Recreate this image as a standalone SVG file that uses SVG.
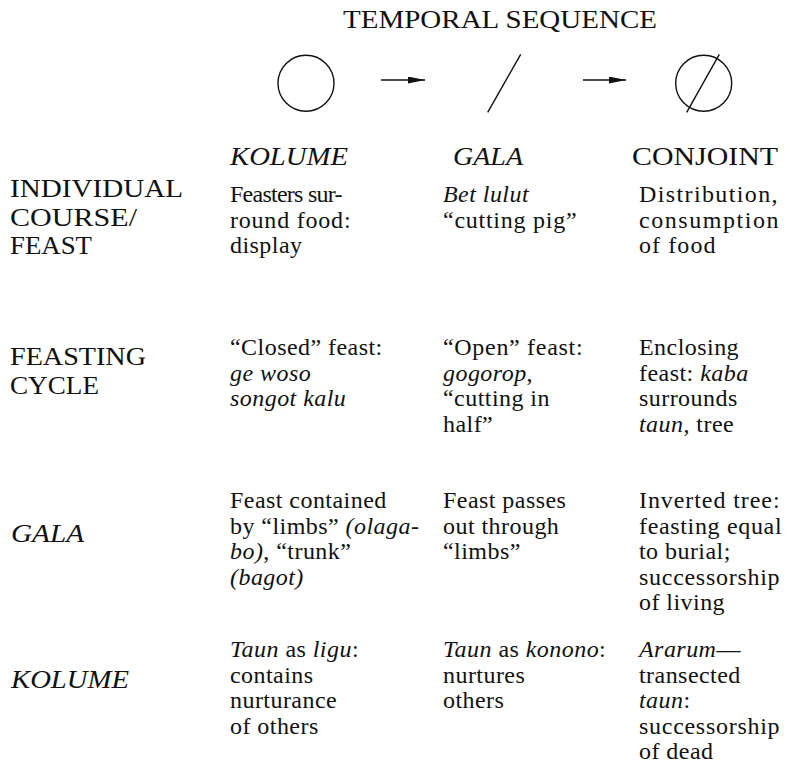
<svg xmlns="http://www.w3.org/2000/svg" width="786" height="764" viewBox="0 0 786 764">
<defs>
<style>
text{fill:#111;}
.t{font-size:26px;}
.lab{font-size:26px;}
.hd{font-size:26px;}
.b{font-size:24px;letter-spacing:0.45px;}
.i{font-style:italic;}
.sym{fill:none;stroke:#111;stroke-width:1.4;}
</style>
<marker id="ah" markerUnits="userSpaceOnUse" markerWidth="18" markerHeight="8" refX="17" refY="3.5" orient="auto">
<path d="M0,0 L17,3.5 L0,7 Z" fill="#111"/>
</marker>
</defs>
<rect width="786" height="764" fill="#fff"/>
<g font-family="Liberation Serif, DejaVu Serif, serif">

<g id="title"><text class="t" x="343" y="28" textLength="314" lengthAdjust="spacingAndGlyphs">TEMPORAL SEQUENCE</text></g>

<g id="sym-circle"><circle class="sym" cx="306" cy="83.3" r="28"/></g>
<g id="sym-slash"><line class="sym" x1="520.7" y1="54.3" x2="487.7" y2="112.3"/></g>
<g id="sym-conjoint"><circle class="sym" cx="703.7" cy="83.3" r="28"/><line class="sym" x1="719.3" y1="54.3" x2="686.7" y2="112.3"/></g>

<g id="connectors">
<line class="sym" x1="381" y1="80" x2="425" y2="80" marker-end="url(#ah)"/>
<line class="sym" x1="583" y1="80" x2="626" y2="80" marker-end="url(#ah)"/>
</g>

<g id="headers">
<text class="hd i" x="230" y="165" textLength="118" lengthAdjust="spacingAndGlyphs">KOLUME</text>
<text class="hd i" x="453" y="165" textLength="70" lengthAdjust="spacingAndGlyphs">GALA</text>
<text class="hd" x="632" y="165" textLength="146" lengthAdjust="spacingAndGlyphs">CONJOINT</text>
</g>

<g id="row-labels">
<text class="lab" x="10" y="197" textLength="173" lengthAdjust="spacingAndGlyphs">INDIVIDUAL</text>
<text class="lab" x="10" y="225.5" textLength="127" lengthAdjust="spacingAndGlyphs">COURSE/</text>
<text class="lab" x="10" y="254" textLength="82" lengthAdjust="spacingAndGlyphs">FEAST</text>
<text class="lab" x="10" y="365" textLength="136" lengthAdjust="spacingAndGlyphs">FEASTING</text>
<text class="lab" x="10" y="394" textLength="89" lengthAdjust="spacingAndGlyphs">CYCLE</text>
<text class="lab i" x="11" y="542" textLength="73" lengthAdjust="spacingAndGlyphs">GALA</text>
<text class="lab i" x="11" y="688" textLength="118" lengthAdjust="spacingAndGlyphs">KOLUME</text>
</g>

<g id="cell-r1-c1">
<text class="b" x="230" y="202" textLength="113" lengthAdjust="spacing">Feasters sur-</text>
<text class="b" x="230" y="227.5" textLength="121" lengthAdjust="spacing">round food:</text>
<text class="b" x="230" y="253">display</text>
</g>
<g id="cell-r1-c2">
<text class="b i" x="443" y="202">Bet lulut</text>
<text class="b" x="443" y="227.5" textLength="134" lengthAdjust="spacing">“cutting pig”</text>
</g>
<g id="cell-r1-c3">
<text class="b" x="639" y="202" textLength="139" lengthAdjust="spacing">Distribution,</text>
<text class="b" x="639" y="227.5" textLength="140" lengthAdjust="spacing">consumption</text>
<text class="b" x="639" y="253" textLength="77" lengthAdjust="spacing">of food</text>
</g>

<g id="cell-r2-c1">
<text class="b" x="230" y="355">“Closed” feast:</text>
<text class="b i" x="230" y="380.5">ge woso</text>
<text class="b i" x="230" y="406">songot kalu</text>
</g>
<g id="cell-r2-c2">
<text class="b" x="443" y="355" textLength="140" lengthAdjust="spacing">“Open” feast:</text>
<text class="b" x="443" y="380.5"><tspan class="i">gogorop</tspan>,</text>
<text class="b" x="443" y="406">“cutting in</text>
<text class="b" x="443" y="431.5">half”</text>
</g>
<g id="cell-r2-c3">
<text class="b" x="639" y="355">Enclosing</text>
<text class="b" x="639" y="380.5">feast: <tspan class="i">kaba</tspan></text>
<text class="b" x="639" y="406">surrounds</text>
<text class="b" x="639" y="431.5"><tspan class="i">taun</tspan>, tree</text>
</g>

<g id="cell-r3-c1">
<text class="b" x="230" y="508">Feast contained</text>
<text class="b" x="230" y="533.5">by “limbs” <tspan class="i">(olaga-</tspan></text>
<text class="b" x="230" y="559"><tspan class="i">bo)</tspan>, “trunk”</text>
<text class="b i" x="230" y="584.5">(bagot)</text>
</g>
<g id="cell-r3-c2">
<text class="b" x="443" y="508">Feast passes</text>
<text class="b" x="443" y="533.5">out through</text>
<text class="b" x="443" y="559">“limbs”</text>
</g>
<g id="cell-r3-c3">
<text class="b" x="639" y="508" textLength="141" lengthAdjust="spacing">Inverted tree:</text>
<text class="b" x="639" y="533.5" textLength="143" lengthAdjust="spacing">feasting equal</text>
<text class="b" x="639" y="559">to burial;</text>
<text class="b" x="639" y="584.5" textLength="141" lengthAdjust="spacing">successorship</text>
<text class="b" x="639" y="610">of living</text>
</g>

<g id="cell-r4-c1">
<text class="b" x="230" y="657"><tspan class="i">Taun</tspan> as <tspan class="i">ligu</tspan>:</text>
<text class="b" x="230" y="682.5">contains</text>
<text class="b" x="230" y="708">nurturance</text>
<text class="b" x="230" y="733.5">of others</text>
</g>
<g id="cell-r4-c2">
<text class="b" x="443" y="657"><tspan class="i">Taun</tspan> as <tspan class="i">konono</tspan>:</text>
<text class="b" x="443" y="682.5">nurtures</text>
<text class="b" x="443" y="708">others</text>
</g>
<g id="cell-r4-c3">
<text class="b" x="639" y="657"><tspan class="i">Ararum</tspan>—</text>
<text class="b" x="639" y="682.5">transected</text>
<text class="b" x="639" y="708"><tspan class="i">taun</tspan>:</text>
<text class="b" x="639" y="733.5" textLength="141" lengthAdjust="spacing">successorship</text>
<text class="b" x="639" y="759">of dead</text>
</g>
</g>
</svg>
